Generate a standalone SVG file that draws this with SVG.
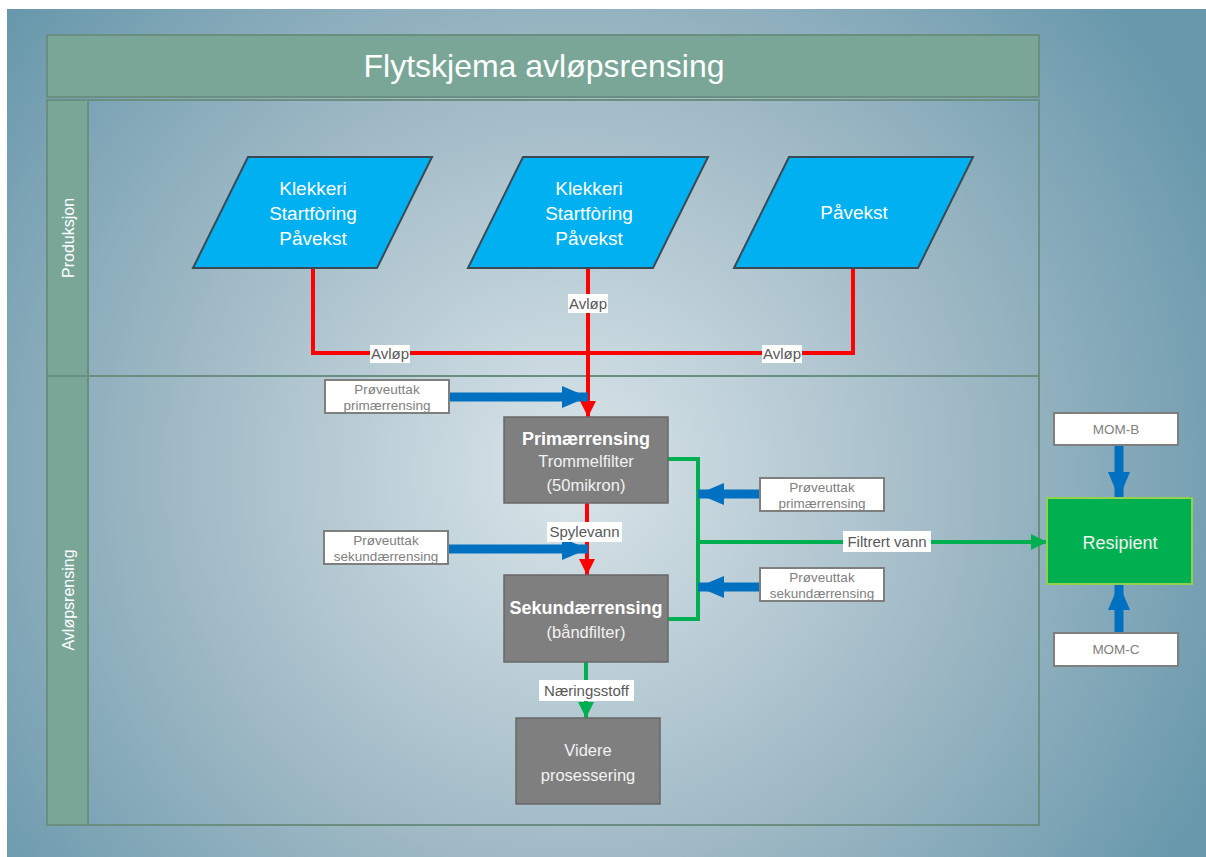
<svg xmlns="http://www.w3.org/2000/svg" width="1206" height="857" viewBox="0 0 1206 857">
<defs>
<radialGradient id="bg" cx="570" cy="470" r="720" gradientUnits="userSpaceOnUse">
<stop offset="0" stop-color="#dae5ea"/>
<stop offset="0.55" stop-color="#9fb9c5"/>
<stop offset="1" stop-color="#6898ac"/>
</radialGradient>
<marker id="mRed" markerUnits="userSpaceOnUse" markerWidth="16" markerHeight="16" refX="16" refY="8" orient="auto">
<path d="M0,0 L16,8 L0,16 Z" fill="#ff0000"/>
</marker>
<marker id="mGreen" markerUnits="userSpaceOnUse" markerWidth="16" markerHeight="16" refX="16" refY="8" orient="auto">
<path d="M0,0 L16,8 L0,16 Z" fill="#00b050"/>
</marker>
<marker id="mBlue" markerUnits="userSpaceOnUse" markerWidth="26" markerHeight="22" refX="26" refY="11" orient="auto">
<path d="M0,0 L26,11 L0,22 Z" fill="#0070c0"/>
</marker>
<style>
.pool{fill:#7aa698;stroke:#6a8f80;stroke-width:2}
.lane{fill:none;stroke:#6a8f80;stroke-width:2}
.para{fill:#00b0f0;stroke:#3a4a55;stroke-width:2}
.proc{fill:#7f7f7f;stroke:#686868;stroke-width:1.5}
.sbox{fill:#ffffff;stroke:#7f7f7f;stroke-width:2}
.t{font-family:"Liberation Sans",Arial,sans-serif;text-anchor:middle}
.w{fill:#ffffff}
.pt{fill:#f2f2f2;font-size:16.5px}
.st{fill:#808080;font-size:13.5px}
.lbl{fill:#595959;font-size:15px}
.red{stroke:#ff0000;stroke-width:4;fill:none}
.grn{stroke:#00b050;stroke-width:4;fill:none}
.blu{stroke:#0070c0;stroke-width:9;fill:none}
</style>
</defs>
<rect x="7" y="9" width="1199" height="848" fill="url(#bg)"/>
<g id="pool">
<rect class="pool" x="47" y="35" width="992" height="62"/>
<text class="t w" x="544" y="77" font-size="32">Flytskjema avløpsrensing</text>
<rect class="lane" x="47" y="100" width="992" height="725"/>
<rect class="pool" x="47" y="100" width="41" height="276"/>
<rect class="pool" x="47" y="376" width="41" height="449"/>
<line class="lane" x1="47" y1="376" x2="1039" y2="376"/>
<text class="t w" font-size="16" transform="translate(74,238) rotate(-90)">Produksjon</text>
<text class="t w" font-size="16" transform="translate(74,600) rotate(-90)">Avløpsrensing</text>
</g>
<g id="connectors">
<path class="red" d="M313,268 V353 H853 V268"/>
<path class="red" d="M588,268 V417" marker-end="url(#mRed)"/>
<path class="red" d="M587,503 V575" marker-end="url(#mRed)"/>
<path class="blu" d="M449,397 H588" marker-end="url(#mBlue)"/>
<path class="blu" d="M448,549 H588" marker-end="url(#mBlue)"/>
<path class="grn" d="M668,459 H698 V619 H668"/>
<path class="grn" d="M698,542 H1047" marker-end="url(#mGreen)"/>
<path class="grn" d="M586,662 V718" marker-end="url(#mGreen)"/>
<path class="blu" d="M760,494 H698" marker-end="url(#mBlue)"/>
<path class="blu" d="M760,587 H698" marker-end="url(#mBlue)"/>
<path class="blu" d="M1119,445 V498" marker-end="url(#mBlue)"/>
<path class="blu" d="M1119,633 V584" marker-end="url(#mBlue)"/>
<rect x="370" y="345" width="40" height="18" fill="#ffffff"/>
<text class="t lbl" x="390" y="359">Avløp</text>
<rect x="568" y="294" width="40" height="19" fill="#ffffff"/>
<text class="t lbl" x="588" y="309">Avløp</text>
<rect x="762" y="345" width="40" height="18" fill="#ffffff"/>
<text class="t lbl" x="782" y="359">Avløp</text>
<rect x="547" y="522" width="75" height="20" fill="#ffffff"/>
<text class="t lbl" x="584.5" y="537">Spylevann</text>
<rect x="843" y="531" width="88" height="21" fill="#ffffff"/>
<text class="t lbl" x="887" y="547">Filtrert vann</text>
<rect x="539" y="680" width="95" height="21" fill="#ffffff"/>
<text class="t lbl" x="586.5" y="696">Næringsstoff</text>
</g>
<g id="n-klekkeri1">
<polygon class="para" points="248,157 432,157 377,268 193,268"/>
<text class="t w" font-size="19" x="313" y="195">Klekkeri</text>
<text class="t w" font-size="19" x="313" y="220">Startfòring</text>
<text class="t w" font-size="19" x="313" y="245">Påvekst</text>
</g>
<g id="n-klekkeri2">
<polygon class="para" points="523,157 708,157 653,268 468,268"/>
<text class="t w" font-size="19" x="589" y="195">Klekkeri</text>
<text class="t w" font-size="19" x="589" y="220">Startfòring</text>
<text class="t w" font-size="19" x="589" y="245">Påvekst</text>
</g>
<g id="n-pavekst">
<polygon class="para" points="789,157 973,157 918,268 734,268"/>
<text class="t w" font-size="19" x="854" y="219">Påvekst</text>
</g>
<g id="n-primaer">
<rect class="proc" x="504" y="417" width="164" height="86"/>
<text class="t w" font-size="18" font-weight="bold" x="586" y="445">Primærrensing</text>
<text class="t pt" x="586" y="467">Trommelfilter</text>
<text class="t pt" x="586" y="491">(50mikron)</text>
</g>
<g id="n-sekundaer">
<rect class="proc" x="504" y="575" width="164" height="87"/>
<text class="t w" font-size="18" font-weight="bold" x="586" y="614">Sekundærrensing</text>
<text class="t pt" font-size="17" x="586" y="638">(båndfilter)</text>
</g>
<g id="n-videre">
<rect class="proc" x="516" y="718" width="144" height="86"/>
<text class="t pt" font-size="18" x="588" y="756">Videre</text>
<text class="t pt" font-size="18" x="588" y="781">prosessering</text>
</g>
<g id="n-resipient">
<rect x="1047" y="498" width="145" height="86" fill="#00b050" stroke="#92d050" stroke-width="2"/>
<text class="t" fill="#f2f2f2" font-size="18" x="1120" y="549">Resipient</text>
</g>
<g id="n-prove-prim-l">
<rect class="sbox" x="325" y="380" width="124" height="33"/>
<text class="t st" x="387" y="394">Prøveuttak</text>
<text class="t st" x="387" y="410">primærrensing</text>
</g>
<g id="n-prove-sek-l">
<rect class="sbox" x="324" y="531" width="124" height="33"/>
<text class="t st" x="386" y="545">Prøveuttak</text>
<text class="t st" x="386" y="561">sekundærrensing</text>
</g>
<g id="n-prove-prim-r">
<rect class="sbox" x="760" y="478" width="124" height="33"/>
<text class="t st" x="822" y="492">Prøveuttak</text>
<text class="t st" x="822" y="508">primærrensing</text>
</g>
<g id="n-prove-sek-r">
<rect class="sbox" x="760" y="568" width="124" height="33"/>
<text class="t st" x="822" y="582">Prøveuttak</text>
<text class="t st" x="822" y="598">sekundærrensing</text>
</g>
<g id="n-momb">
<rect class="sbox" x="1054" y="413" width="124" height="32"/>
<text class="t st" font-size="12.5" x="1116" y="434">MOM-B</text>
</g>
<g id="n-momc">
<rect class="sbox" x="1054" y="633" width="124" height="33"/>
<text class="t st" font-size="12.5" x="1116" y="654">MOM-C</text>
</g>
</svg>
